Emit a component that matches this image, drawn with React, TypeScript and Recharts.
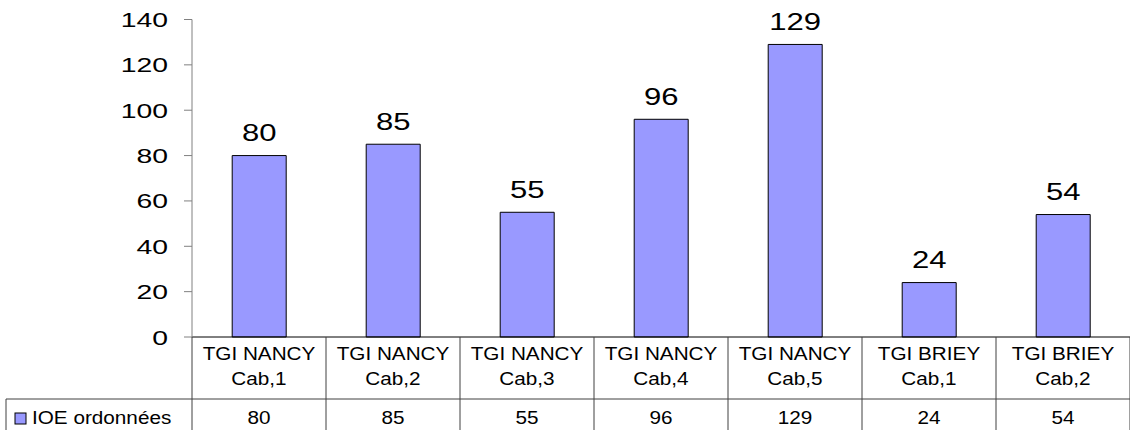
import React from "react";
import { BarChart, Bar, XAxis, YAxis, LabelList } from "recharts";

const sites = ["TGI NANCY", "TGI NANCY", "TGI NANCY", "TGI NANCY", "TGI NANCY", "TGI BRIEY", "TGI BRIEY"];
const cabinets = ["Cab,1", "Cab,2", "Cab,3", "Cab,4", "Cab,5", "Cab,1", "Cab,2"];
const ioeOrdonnees = [80, 85, 55, 96, 129, 24, 54];
const yTicks = [0, 20, 40, 60, 80, 100, 120, 140];
const seriesName = "IOE ordonnées";

const data = sites.map((site, i) => ({
  name: `${site} ${cabinets[i]}`,
  site,
  cab: cabinets[i],
  value: ioeOrdonnees[i],
}));

// mise en page (px)
const W = 1130;
const H = 430;
const TOP = 19.5;
const AXIS_W = 192;
const TABLE_H = 93;
const PLOT_BOTTOM = H - TABLE_H;
const BAND = (W - AXIS_W) / data.length;
const ROW_LINE = 399;
const FONT = "'Liberation Sans', Arial, sans-serif";
const BAR_COLOR = "#9999FF";
const GRID = "#404040";

const YTick = (props: any) => {
  const { x, y, payload } = props;
  return (
    <text
      transform={`translate(${x - 14},${y + 7.5}) scale(1.35,1)`}
      textAnchor="end"
      fontSize={21}
      fontFamily={FONT}
      fill="#000"
    >
      {payload.value}
    </text>
  );
};

const TableTick = (props: any) => {
  const { x, index } = props;
  const row = data[index];
  const cx = x;
  const txt = (t: string | number, baseline: number, xx: number, anchor = "middle") => (
    <text
      transform={`translate(${xx},${baseline}) scale(1.12,1)`}
      textAnchor={anchor}
      fontSize={18.5}
      fontFamily={FONT}
      fill="#000"
    >
      {t}
    </text>
  );
  return (
    <g>
      {index === 0 && (
        <g>
          <line x1={AXIS_W} x2={AXIS_W} y1={PLOT_BOTTOM} y2={H} stroke={GRID} />
          <line x1={6} x2={W} y1={ROW_LINE} y2={ROW_LINE} stroke={GRID} />
          <line x1={6} x2={6} y1={ROW_LINE} y2={H} stroke={GRID} />
          <rect x={15} y={413} width={11} height={11} fill={BAR_COLOR} stroke="#000" />
          {txt(seriesName, 424, 32, "start")}
        </g>
      )}
      <line x1={cx + BAND / 2} x2={cx + BAND / 2} y1={PLOT_BOTTOM} y2={H} stroke={GRID} />
      {txt(row.site, 360, cx)}
      {txt(row.cab, 385, cx)}
      {txt(row.value, 424, cx)}
    </g>
  );
};

const BarValue = (props: any) => {
  const { x, y, width, value } = props;
  return (
    <text
      transform={`translate(${x + width / 2},${y - 14.5}) scale(1.35,1)`}
      textAnchor="middle"
      fontSize={23}
      fontFamily={FONT}
      fill="#000"
    >
      {value}
    </text>
  );
};

export default function App() {
  return (
    <div style={{ position: "absolute", left: 0, top: 0, width: W, height: H, background: "#fff" }}>
      <BarChart
        width={W}
        height={H}
        data={data}
        margin={{ top: TOP, right: 0, bottom: 0, left: 0 }}
        barCategoryGap="30%"
      >
        <XAxis
          dataKey="name"
          height={TABLE_H}
          interval={0}
          tickLine={false}
          axisLine={{ stroke: "#000" }}
          tick={<TableTick />}
        />
        <YAxis
          width={AXIS_W}
          domain={[0, 140]}
          ticks={yTicks}
          interval={0}
          tickSize={8}
          tickLine={{ stroke: "#808080" }}
          axisLine={{ stroke: "#808080" }}
          tick={<YTick />}
        />
        <Bar dataKey="value" fill={BAR_COLOR} stroke="#000" strokeWidth={1} isAnimationActive={false}>
          <LabelList dataKey="value" content={<BarValue />} />
        </Bar>
      </BarChart>
    </div>
  );
}
